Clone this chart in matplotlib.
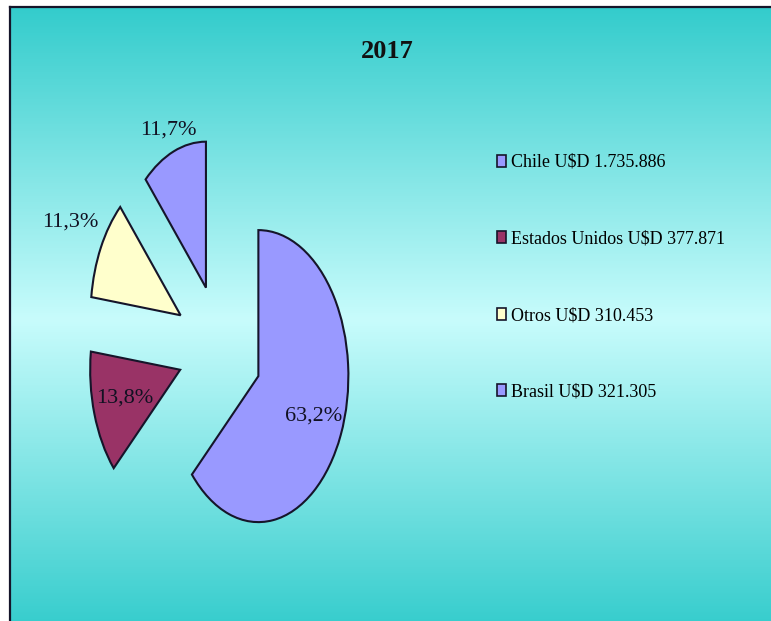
import numpy as np
import matplotlib
matplotlib.use("Agg")
from matplotlib import pyplot as plt
from matplotlib.colors import LinearSegmentedColormap

# data
paises = ["Chile", "Estados Unidos", "Otros", "Brasil"]
montos = [1735886, 377871, 310453, 321305]
montos_txt = ["1.735.886", "377.871", "310.453", "321.305"]
colores = ["#9999ff", "#993366", "#ffffcc", "#9999ff"]
explode = [0.46, 0.47, 0.5, 0.45]
pct_dist = [0.67, 0.65, 1.38, 1.16]   # label distance from the slice tip

plt.rcParams['font.family'] = ['Liberation Serif', 'DejaVu Serif']

W, H = 771, 621
fig = plt.figure(figsize=(W / 100, H / 100), dpi=100)
fig.patch.set_facecolor("white")

# background panel with vertical gradient (right/bottom edges run off the figure)
bg = fig.add_axes([10 / W, -0.02, 1 - 10 / W + 0.02, (H - 7) / H + 0.02])
cmap = LinearSegmentedColormap.from_list(
    "fondo", [(0, "#33cccc"), (0.5, "#c8fcfc"), (1, "#33cccc")])
grad = np.linspace(0, 1, 256).reshape(-1, 1)
bg.imshow(grad, cmap=cmap, aspect="auto", extent=[0, 1, 0, 1])
bg.set_xticks([])
bg.set_yticks([])
for s in ["right", "bottom"]:
    bg.spines[s].set_visible(False)
for s in ["left", "top"]:
    bg.spines[s].set_linewidth(1.6)
    bg.spines[s].set_color("#15152a")

# pie
ax = fig.add_axes([0, 0, 1, 1])
ax.patch.set_alpha(0)
cx, cy, rx, ry = 220.5, 349, 90, 146


def fmt(p):
    return ("%.1f%%" % p).replace(".", ",")


wedges, textos, autotextos = ax.pie(
    montos, colors=colores, explode=explode, startangle=90, counterclock=False,
    autopct=fmt, wedgeprops=dict(edgecolor="#15152a", linewidth=1.5),
    textprops=dict(fontsize=16, color="#111122"))

for w, t, d in zip(wedges, autotextos, pct_dist):
    ang = np.deg2rad((w.theta1 + w.theta2) / 2)
    x0, y0 = w.center
    t.set_position((x0 + d * np.cos(ang), y0 + d * np.sin(ang)))

ax.set_aspect("auto")
ax.set_xlim(-cx / rx, (W - cx) / rx)
ax.set_ylim((cy - H) / ry, cy / ry)
ax.axis("off")

# title
fig.text(387 / W, 1 - 51 / H, "2017", ha="center", va="center",
         fontsize=19, fontweight="bold", color="#111111")

# legend
etiquetas = [p + " U$D " + m for p, m in zip(paises, montos_txt)]
leg = ax.legend(wedges, etiquetas, loc="upper left", frameon=False,
                bbox_to_anchor=(497 / W, 1 - 154 / H), fontsize=13,
                labelspacing=3.3, handlelength=0.5, handleheight=0.65,
                handletextpad=0.25, borderpad=0, borderaxespad=0)
for h in leg.legend_handles:
    h.set_linewidth(1.2)

fig.savefig("out.png", dpi=100)
